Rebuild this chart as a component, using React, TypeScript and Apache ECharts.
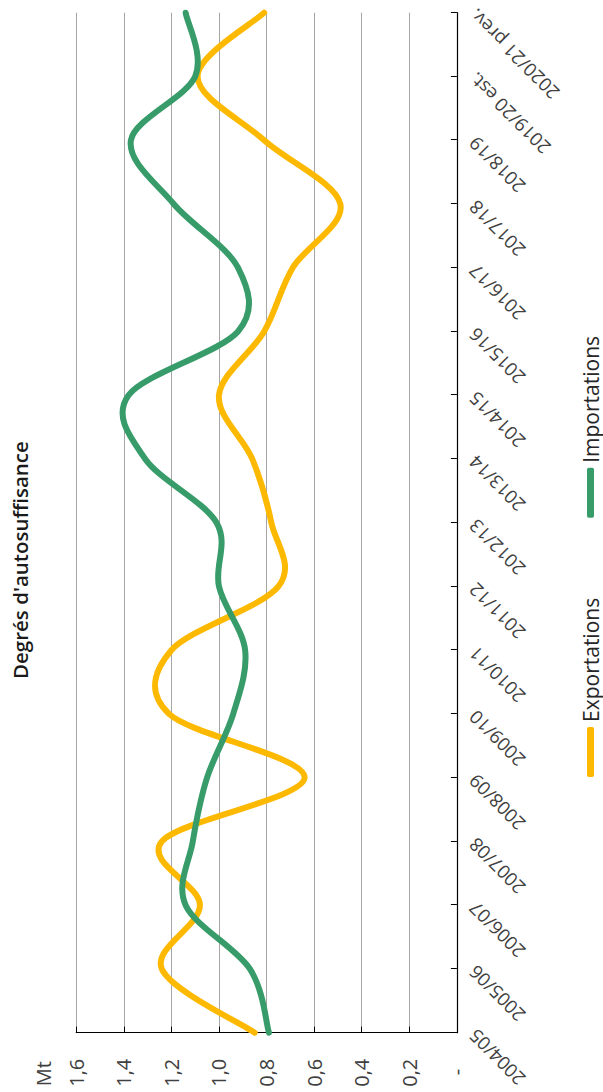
import React, { useEffect, useRef } from 'react';
import * as echarts from 'echarts';

const categories = [
  '2004/05', '2005/06', '2006/07', '2007/08', '2008/09', '2009/10', '2010/11',
  '2011/12', '2012/13', '2013/14', '2014/15', '2015/16', '2016/17', '2017/18',
  '2018/19', '2019/20 est.', '2020/21 prev.',
];
const exportations = [0.85, 1.24, 1.08, 1.24, 0.64, 1.21, 1.2, 0.75, 0.78, 0.86, 1.0, 0.81, 0.69, 0.49, 0.81, 1.09, 0.81];
const importations = [0.79, 0.87, 1.14, 1.11, 1.05, 0.94, 0.89, 1.0, 1.01, 1.31, 1.38, 0.92, 0.92, 1.19, 1.37, 1.1, 1.14];
const seriesNames = ['Exportations', 'Importations'];
const seriesColors = ['#FCB900', '#389C6A'];
const titleText = "Degrés d'autosuffisance";
const unitText = 'Mt';

const FONT = '"Open Sans", "Noto Sans", sans-serif';

// Smoothed line (Catmull-Rom style, like a spreadsheet "smoothed line") drawn through the axis scales
const makeRender = (values: number[], color: string) => (params: any, api: any) => {
  if (params.dataIndex !== 0) return null;
  const pts = values.map((v, i) => api.coord([i, v]));
  const n = pts.length;
  let d = `M${pts[0][0]},${pts[0][1]}`;
  for (let i = 0; i < n - 1; i++) {
    const p0 = pts[Math.max(i - 1, 0)];
    const p1 = pts[i];
    const p2 = pts[i + 1];
    const p3 = pts[Math.min(i + 2, n - 1)];
    const c1x = p1[0] + (p2[0] - p0[0]) / 6;
    const c1y = p1[1] + (p2[1] - p0[1]) / 6;
    const c2x = p2[0] - (p3[0] - p1[0]) / 6;
    const c2y = p2[1] - (p3[1] - p1[1]) / 6;
    d += ` C${c1x},${c1y} ${c2x},${c2y} ${p2[0]},${p2[1]}`;
  }
  return {
    type: 'path',
    shape: { pathData: d },
    style: { stroke: color, lineWidth: 6, fill: 'none', lineCap: 'round', lineJoin: 'round' },
    silent: true,
  };
};

export default function App() {
  const ref = useRef<HTMLDivElement>(null);
  useEffect(() => {
    const chart = echarts.init(ref.current!, null, { renderer: 'svg', width: 1092, height: 603 });
    const lists = [exportations, importations];
    chart.setOption({
      animation: false,
      backgroundColor: '#ffffff',
      title: {
        text: titleText,
        left: 413,
        top: 9,
        padding: 0,
        textStyle: { fontSize: 20.5, fontWeight: 600, color: '#1a1a1a', fontFamily: FONT },
      },
      legend: {
        data: seriesNames,
        left: 315,
        top: 580,
        padding: 0,
        icon: 'roundRect',
        itemWidth: 50,
        itemHeight: 7,
        itemGap: 80,
        textStyle: { fontSize: 21, color: '#262626', fontFamily: FONT },
      },
      grid: { left: 59.3, right: 12.7, top: 76.2, bottom: 146.1, containLabel: false },
      xAxis: {
        type: 'category',
        data: categories,
        boundaryGap: false,
        axisLine: { show: true, lineStyle: { color: '#000', width: 1.2 } },
        axisTick: { show: true, inside: true, length: 6, interval: 0, lineStyle: { color: '#000' } },
        axisLabel: { rotate: 45, interval: 0, margin: 15, fontSize: 18.5, color: '#404040', fontFamily: FONT },
        splitLine: { show: false },
      },
      yAxis: {
        type: 'value',
        min: 0,
        max: 1.6,
        interval: 0.2,
        axisLine: { show: true, lineStyle: { color: '#000', width: 1.2 } },
        axisTick: { show: true, inside: true, length: 6, lineStyle: { color: '#000' } },
        axisLabel: {
          margin: 26,
          fontSize: 20,
          color: '#404040',
          fontFamily: FONT,
          formatter: (v: number) => (v === 0 ? '{dash|-}' : v.toFixed(1).replace('.', ',')),
          rich: { dash: { fontSize: 20, color: '#404040', padding: [0, 10, 0, 0], fontFamily: FONT } },
        },
        splitLine: { show: true, lineStyle: { color: '#a6a6a6', width: 1 } },
      },
      graphic: [
        {
          type: 'text',
          x: 31,
          y: 43,
          style: {
            text: unitText,
            align: 'right',
            verticalAlign: 'middle',
            fontSize: 20,
            fill: '#404040',
            fontFamily: FONT,
          },
        },
      ],
      series: seriesNames.map((name, s) => ({
        name,
        type: 'custom',
        data: lists[s].map((v, i) => [i, v]),
        encode: { x: 0, y: 1 },
        renderItem: makeRender(lists[s], seriesColors[s]),
        itemStyle: { color: seriesColors[s] },
        clip: false,
      })),
    });
    return () => chart.dispose();
  }, []);
  return (
    <div style={{ position: 'fixed', left: 0, top: 0, width: 603, height: 1092, overflow: 'hidden', background: '#fff' }}>
      <div
        ref={ref}
        style={{
          position: 'absolute',
          left: 0,
          top: 0,
          width: 1092,
          height: 603,
          transformOrigin: '0 0',
          transform: 'translate(0px, 1092px) rotate(-90deg)',
        }}
      />
    </div>
  );
}
